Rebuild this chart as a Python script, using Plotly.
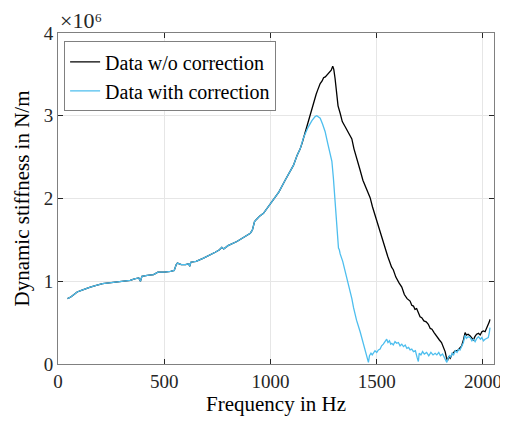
import plotly.graph_objects as go

# Shared low-frequency part (both curves coincide), stiffness in 10^6 N/m
freq_common = [45, 60, 80, 90, 110, 130, 152, 180, 210, 240, 270, 300, 340, 360, 375, 380, 388, 395,
               420, 450, 470, 500, 530, 547, 556, 562, 580, 600, 615, 620, 625, 650, 685, 710, 740,
               760, 771, 780, 800, 842, 870, 905, 915, 925, 935, 950, 967, 990, 1014, 1040, 1069,
               1090, 1108, 1125, 1140]
stiff_common = [0.79, 0.81, 0.85, 0.87, 0.89, 0.91, 0.93, 0.95, 0.97, 0.98, 0.99, 1.00, 1.01, 1.03, 1.04,
                1.04, 1.00, 1.06, 1.07, 1.08, 1.11, 1.11, 1.12, 1.13, 1.20, 1.22, 1.20, 1.20, 1.21, 1.18,
                1.23, 1.24, 1.28, 1.31, 1.35, 1.38, 1.41, 1.39, 1.43, 1.48, 1.52, 1.58, 1.62, 1.72, 1.75,
                1.79, 1.82, 1.90, 1.98, 2.08, 2.22, 2.32, 2.40, 2.52, 2.60]

freq_wo = [1150, 1163, 1175, 1187, 1197, 1205, 1215, 1222, 1234, 1243, 1250, 1258, 1265, 1272, 1280,
           1286, 1293, 1298, 1304, 1310, 1318, 1328, 1338, 1351, 1365, 1374, 1383, 1393, 1406, 1420,
           1435, 1450, 1469, 1480, 1493, 1505, 1516, 1528, 1540, 1552, 1563, 1570, 1578, 1590, 1605,
           1618, 1630, 1643, 1657, 1665, 1673, 1680, 1688, 1696, 1704, 1712, 1722, 1733, 1743, 1752,
           1760, 1770, 1778, 1786, 1795, 1805, 1814, 1822, 1828, 1833, 1839, 1846, 1855, 1862, 1870,
           1880, 1892, 1900, 1908, 1916, 1922, 1930, 1940, 1948, 1955, 1962, 1970, 1979, 1987, 1995,
           2002, 2010, 2018, 2025, 2030, 2033]
stiff_wo = [2.68, 2.80, 2.90, 2.99, 3.09, 3.16, 3.26, 3.31, 3.39, 3.42, 3.46, 3.47, 3.49, 3.51, 3.52,
            3.55, 3.60, 3.56, 3.45, 3.30, 3.12, 3.03, 2.93, 2.87, 2.80, 2.77, 2.72, 2.60, 2.47, 2.36,
            2.22, 2.12, 2.01, 1.90, 1.79, 1.70, 1.61, 1.48, 1.39, 1.30, 1.22, 1.17, 1.14, 1.05, 0.98,
            0.93, 0.84, 0.79, 0.76, 0.71, 0.70, 0.66, 0.67, 0.62, 0.57, 0.56, 0.52, 0.51, 0.48, 0.43,
            0.42, 0.38, 0.35, 0.31, 0.29, 0.26, 0.21, 0.15, 0.08, 0.04, 0.09, 0.07, 0.12, 0.14, 0.16,
            0.16, 0.19, 0.22, 0.29, 0.38, 0.35, 0.36, 0.34, 0.31, 0.29, 0.33, 0.36, 0.37, 0.35, 0.39,
            0.40, 0.39, 0.44, 0.46, 0.51, 0.54]

freq_with = [1155, 1175, 1195, 1210, 1218, 1226, 1234, 1245, 1257, 1270, 1280, 1289, 1296, 1304, 1312,
             1320, 1324, 1328, 1340, 1351, 1363, 1375, 1383, 1391, 1405, 1422, 1435, 1448, 1456, 1461,
             1466, 1473, 1479, 1485, 1492, 1500, 1508, 1516, 1523, 1531, 1539, 1547, 1553, 1560, 1566,
             1571, 1578, 1586, 1594, 1602, 1610, 1618, 1626, 1634, 1642, 1650, 1657, 1665, 1673, 1682,
             1690, 1696, 1700, 1708, 1716, 1724, 1735, 1745, 1755, 1765, 1775, 1783, 1792, 1800, 1810,
             1818, 1825, 1830, 1836, 1842, 1848, 1855, 1862, 1870, 1878, 1886, 1892, 1900, 1908, 1916,
             1922, 1930, 1940, 1948, 1955, 1963, 1971, 1979, 1988, 1995, 2002, 2010, 2018, 2025, 2030, 2033]
stiff_with = [2.73, 2.85, 2.94, 2.99, 3.00, 2.99, 2.97, 2.90, 2.81, 2.66, 2.56, 2.45, 2.25, 1.98, 1.66,
              1.40, 1.38, 1.33, 1.24, 1.13, 1.02, 0.89, 0.79, 0.68, 0.53, 0.39, 0.26, 0.14, 0.06, 0.02,
              0.10, 0.13, 0.11, 0.14, 0.16, 0.14, 0.17, 0.18, 0.22, 0.24, 0.27, 0.30, 0.26, 0.28, 0.24,
              0.25, 0.23, 0.27, 0.25, 0.26, 0.22, 0.24, 0.21, 0.23, 0.19, 0.20, 0.17, 0.18, 0.15, 0.16,
              0.08, 0.03, 0.13, 0.11, 0.15, 0.12, 0.14, 0.10, 0.14, 0.11, 0.13, 0.11, 0.14, 0.10, 0.12,
              0.08, 0.05, 0.02, 0.07, 0.10, 0.08, 0.13, 0.11, 0.16, 0.14, 0.18, 0.17, 0.21, 0.26, 0.35,
              0.31, 0.33, 0.32, 0.28, 0.30, 0.27, 0.31, 0.33, 0.30, 0.32, 0.28, 0.30, 0.31, 0.32, 0.38, 0.44]

y_ticks = [0, 1, 2, 3, 4]
x_ticks = [0, 500, 1000, 1500, 2000]

FONT = "Liberation Serif, Times New Roman, serif"
AX = "#262626"

fig = go.Figure()
fig.add_trace(go.Scatter(x=freq_common + freq_wo, y=stiff_common + stiff_wo, mode="lines",
                         name="Data w/o correction", line=dict(color="#000000", width=1.3)))
fig.add_trace(go.Scatter(x=freq_common + freq_with, y=stiff_common + stiff_with, mode="lines",
                         name="Data with correction", line=dict(color="#4DBEEE", width=1.3)))

axis_common = dict(showline=True, linecolor="#808080", linewidth=1, mirror="ticks",
                   ticks="inside", ticklen=5, tickcolor=AX, showgrid=True, gridcolor="#e6e6e6",
                   zeroline=False, automargin=False, tickfont=dict(family=FONT, size=19, color=AX))

fig.update_xaxes(range=[0, 2052], tickvals=x_ticks,
                 title=dict(text="Frequency in Hz", font=dict(family=FONT, size=21, color="#000"), standoff=4),
                 **axis_common)
fig.update_yaxes(range=[0, 4], tickvals=y_ticks, ticktext=[str(v) for v in y_ticks],
                 title=dict(text="Dynamic stiffness in N/m", font=dict(family=FONT, size=21, color="#000"), standoff=8),
                 **axis_common)

fig.add_annotation(text="×10⁶", xref="paper", yref="paper", x=0.0, y=1.0,
                   xanchor="left", yanchor="bottom", showarrow=False, yshift=-2,
                   font=dict(family=FONT, size=22, color=AX))

# page body adds an 8px margin, so the figure is sized to fit inside the window
fig.update_layout(
    width=500, height=418,
    margin=dict(l=50, r=14, t=25, b=62),
    font=dict(family=FONT),
    plot_bgcolor="white", paper_bgcolor="white",
    legend=dict(x=0.014, y=0.975, xanchor="left", yanchor="top",
                bordercolor="#808080", borderwidth=1, bgcolor="white",
                font=dict(family=FONT, size=20, color="#000"),
                tracegroupgap=0, itemwidth=30),
    showlegend=True,
)

fig.write_html("out.html")
